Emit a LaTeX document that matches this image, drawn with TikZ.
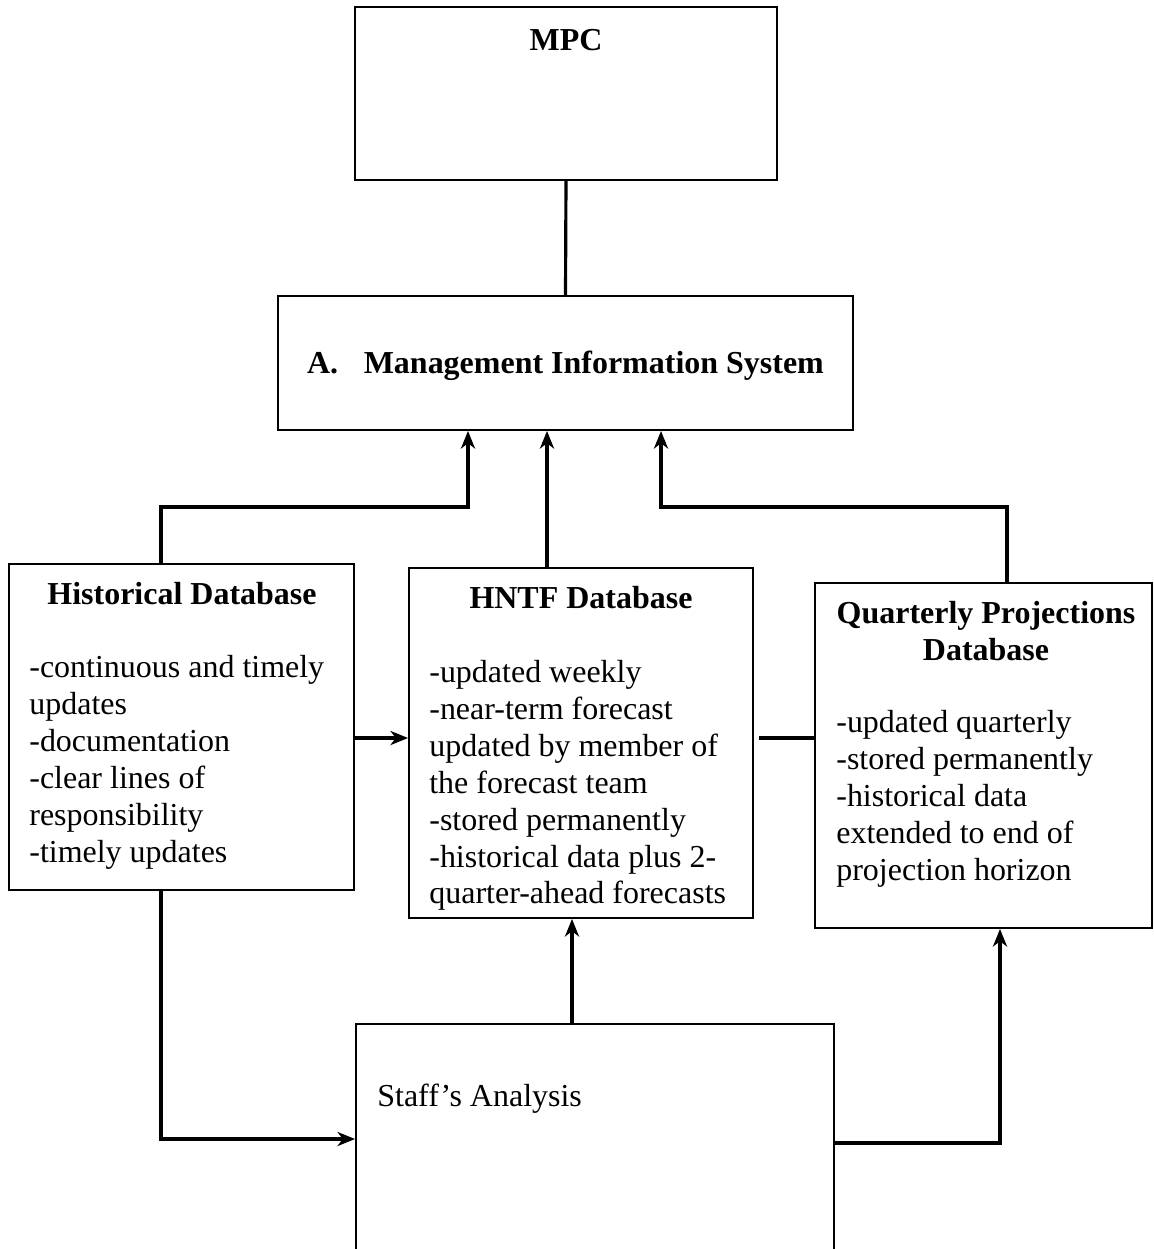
\documentclass[tikz,border=0pt]{standalone}
\usepackage{fontspec}
\setmainfont{Liberation Serif}
\usetikzlibrary{arrows.meta,positioning}
\tikzset{
  box/.style={draw, line width=1.1pt, rectangle, inner sep=0pt},
  link/.style={line width=1.8pt},
  feed/.style={line width=1.8pt, -{Stealth[length=10pt,width=8pt,inset=3pt]}},
  head/.style={font=\bfseries\fontsize{18.2}{21}\selectfont, anchor=base, inner sep=0pt},
  body/.style={font=\fontsize{18.2}{21}\selectfont, anchor=north west, align=left, inner sep=0pt}
}
\begin{document}
\begin{tikzpicture}[x=0.02cm,y=-0.02cm]
    \useasboundingbox (0,0) rectangle (1154,1249);

    % Boxes
    \node[box, minimum width=8.44cm, minimum height=3.46cm] (mpc) at (566,93.5) {};
    \node[box, minimum width=11.5cm, minimum height=2.68cm] (mis) at (565.5,363) {};
    \node[box, minimum width=6.9cm, minimum height=6.52cm] (hist) at (181.5,727) {};
    \node[box, minimum width=6.88cm, minimum height=7cm] (hntf) at (581,743) {};
    \node[box, minimum width=6.74cm, minimum height=6.9cm] (qpd) at (983.5,755.5) {};
    \node[box, minimum width=9.56cm, minimum height=5.52cm] (staff) at (595,1162) {};

    % Titles
    \node[head] (mpctxt) at (566,50) {MPC};
    \node[head] (mistxt) at (565.5,373) {A.\hspace{0.8em}Management Information System};
    \node[head] (histtxt) at (182,604) {Historical Database};
    \node[head] (hntftxt) at (581,608) {HNTF Database};
    \node[head, align=center] (qpdtxt) at (986,660) {Quarterly Projections\\Database};

    % Contents
    \node[body] (histlist) at (29,655) {-continuous and timely\\updates\\-documentation\\-clear lines of\\responsibility\\-timely updates};
    \node[body] (hntflist) at (429,660) {-updated weekly\\-near-term forecast\\updated by member of\\the forecast team\\-stored permanently\\-historical data plus 2-\\quarter-ahead forecasts};
    \node[body] (qpdlist) at (836,710) {-updated quarterly\\-stored permanently\\-historical data\\extended to end of\\projection horizon};
    \node[body] (stafftxt) at (377,1084) {Staff’s Analysis};

    % Connectors
    \draw[link] (mpc.south) -- (mis.north);
    \draw[feed] (hist.north -| 161,0) |- (468,507) -- (mis.south -| 468,0);
    \draw[feed] (hntf.north -| 547,0) -- (mis.south -| 547,0);
    \draw[feed] (qpd.north -| 1007,0) |- (661,507) -- (mis.south -| 661,0);
    \draw[feed] (hist.east |- 0,738) -- (hntf.west |- 0,738);
    \draw[link] (hntf.east |- 0,738) ++(5,0) -- (qpd.west |- 0,738);
    \draw[feed] (hist.south -| 161,0) |- (staff.west |- 0,1139);
    \draw[feed] (staff.north -| 572,0) -- (hntf.south -| 572,0);
    \draw[feed] (staff.east |- 0,1143) -| (qpd.south -| 1000,0);
\end{tikzpicture}
\end{document}
